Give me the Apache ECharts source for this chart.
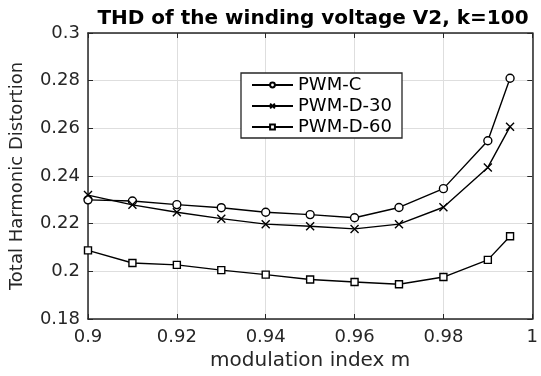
<!DOCTYPE html>
<html>
<head>
<meta charset="utf-8">
<script src="https://cdn.jsdelivr.net/npm/echarts@6/dist/echarts.min.js"></script>
<style>
html,body{margin:0;padding:0;background:#fff;}
#chart{width:541px;height:376px;}
</style>
</head>
<body>
<div id="chart"></div>
<script>
const mValues = [0.9, 0.91, 0.92, 0.93, 0.94, 0.95, 0.96, 0.97, 0.98, 0.99, 0.995];
const pwmC   = [0.230, 0.2295, 0.228, 0.2267, 0.2248, 0.2238, 0.2225, 0.2268, 0.2347, 0.2548, 0.281];
const pwmD30 = [0.232, 0.2279, 0.2248, 0.2221, 0.2198, 0.2189, 0.2178, 0.2198, 0.2269, 0.2436, 0.2607];
const pwmD60 = [0.2088, 0.2035, 0.2027, 0.2005, 0.1986, 0.1966, 0.1955, 0.1946, 0.1976, 0.2048, 0.2147];
const seriesNames = ['PWM-C', 'PWM-D-30', 'PWM-D-60'];
const titleText = 'THD of the winding voltage V2, k=100';
const xName = 'modulation index m';
const yName = 'Total Harmonic Distortion';

const FONT = 'DejaVu Sans';
const AX = '#262626';
const pairs = arr => mValues.map((m, i) => [m, arr[i]]);

const chart = echarts.init(document.getElementById('chart'), null, {renderer: 'canvas'});

const frameAxisCommon = {
  axisLine: {show: true, lineStyle: {color: AX, width: 1.5}},
  axisTick: {show: true, inside: true, length: 5, lineStyle: {color: AX, width: 1}},
};

function mkSeries(name, data, symbol, size) {
  return {
    name: name,
    type: 'line',
    data: data,
    symbol: symbol,
    symbolSize: size,
    showAllSymbol: true,
    lineStyle: {color: '#000', width: 1.4},
    itemStyle: {color: '#fff', borderColor: '#000', borderWidth: 1.4},
    emphasis: {disabled: true},
    animation: false,
    z: 3
  };
}

const option = {
  animation: false,
  backgroundColor: '#fff',
  title: {
    text: titleText,
    left: 313,
    top: 9,
    padding: 0,
    textAlign: 'center',
    textStyle: {fontFamily: FONT, fontSize: 20, fontWeight: 'bold', color: '#000'}
  },
  grid: {left: 88, right: 3, top: 33, bottom: 52, containLabel: false},
  legend: {
    orient: 'vertical',
    left: 251,
    top: 76,
    padding: 0,
    z: 20,
    itemWidth: 41,
    itemHeight: 6,
    itemGap: 3,
    textStyle: {fontFamily: FONT, fontSize: 18, color: '#000', lineHeight: 18, padding: [0, 0, 0, 0]},
    data: seriesNames
  },
  graphic: [{
    type: 'rect',
    shape: {x: 241, y: 73, width: 161, height: 65},
    style: {fill: '#fff', stroke: '#262626', lineWidth: 1.3},
    z: 2
  }],
  xAxis: [{
    type: 'value',
    min: 0.9, max: 1, interval: 0.02,
    position: 'bottom',
    name: xName,
    nameLocation: 'middle',
    nameGap: 32,
    nameTextStyle: {fontFamily: FONT, fontSize: 20, color: AX},
    axisLabel: {fontFamily: FONT, fontSize: 18, color: AX, margin: 9},
    splitLine: {show: true, lineStyle: {color: '#dedede', width: 1}},
    ...frameAxisCommon
  }, {
    type: 'value',
    min: 0.9, max: 1, interval: 0.02,
    position: 'top',
    axisLabel: {show: false},
    splitLine: {show: false},
    ...frameAxisCommon
  }],
  yAxis: [{
    type: 'value',
    min: 0.18, max: 0.3, interval: 0.02,
    position: 'left',
    name: yName,
    nameLocation: 'middle',
    nameGap: 62,
    nameTextStyle: {fontFamily: FONT, fontSize: 18, color: AX},
    axisLabel: {fontFamily: FONT, fontSize: 18, color: AX, margin: 8},
    splitLine: {show: true, lineStyle: {color: '#dedede', width: 1}},
    ...frameAxisCommon
  }, {
    type: 'value',
    min: 0.18, max: 0.3, interval: 0.02,
    position: 'right',
    axisLabel: {show: false},
    splitLine: {show: false},
    ...frameAxisCommon
  }],
  series: [
    mkSeries(seriesNames[0], pairs(pwmC), 'circle', 8),
    mkSeries(seriesNames[1], pairs(pwmD30), 'path://M0,0L10,10M10,0L0,10', 8),
    mkSeries(seriesNames[2], pairs(pwmD60), 'rect', 7)
  ]
};
chart.setOption(option);
</script>
</body>
</html>
